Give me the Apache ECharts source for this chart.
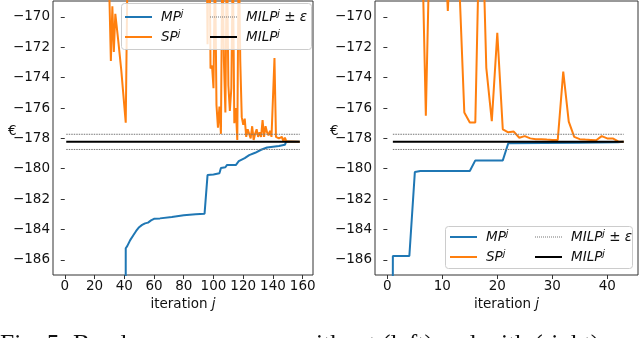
<!DOCTYPE html>
<html>
<head>
<meta charset="utf-8">
<script src="https://cdn.jsdelivr.net/npm/echarts@6/dist/echarts.min.js"></script>
<style>
  html, body { margin: 0; padding: 0; background: #fff; }
  #chart { width: 640px; height: 338px; }
</style>
</head>
<body>
<div id="chart"></div>
<script>
// axis ranges and ticks
const yRange = [-187, -168.95];
const yTicks = [-186, -184, -182, -180, -178, -176, -174, -172, -170];
const leftXRange = [-7.9, 166.9];
const leftXTicks = [0, 20, 40, 60, 80, 100, 120, 140, 160];
const rightXRange = [-2.25, 45.6];
const rightXTicks = [0, 10, 20, 30, 40];

// reference MILP value and tolerance
const milp = -178.23;
const eps = 0.5;
const leftSpan = [1, 158];
const rightSpan = [1, 43];

// left: without ... (iteration, value)
const leftMP = [
  [40, -400], [41, -185.24], [42, -185.1], [44, -184.7], [46, -184.4], [48, -184.1],
  [50, -183.85], [52, -183.7], [54, -183.6], [56, -183.55], [58, -183.4], [60, -183.3],
  [64, -183.27], [72, -183.18], [80, -183.07], [88, -183.0], [94, -182.96], [96, -180.42],
  [100, -180.38], [104, -180.3], [105, -179.95], [108, -179.9], [109, -179.76],
  [115, -179.76], [117, -179.5], [121, -179.3], [124, -179.1], [128, -178.95],
  [132, -178.75], [136, -178.6], [140, -178.55], [144, -178.5], [148, -178.42],
  [149, -178.2], [158, -178.22]
];
const leftSP = [
  [1, -150], [28, -160], [31, -172.9], [32, -169.3], [33, -172.3], [34, -169.8],
  [36, -171.6], [38, -173.5], [41, -176.97], [43, -160], [95, -160],
  [96, -171.8], [97, -160], [98, -173.4], [99, -173.2], [100, -174.7], [101, -166],
  [102, -175.8], [103, -177.3], [104, -175.9], [105, -177.7], [106, -165],
  [107, -172.9], [108, -176.3], [109, -165], [110, -174.5], [111, -176.2],
  [112, -174.7], [113, -166], [114, -177], [115, -176], [116, -178.1], [117, -165],
  [118, -172.9], [119, -176.6], [120, -177.1], [121, -176.7], [122, -177.9],
  [123, -177.4], [124, -177.7], [125, -178], [126, -177.2], [127, -178.1],
  [128, -177.7], [129, -177.4], [130, -177.9], [131, -177.6], [132, -177.9],
  [133, -176.8], [134, -177.9], [135, -177.2], [136, -177.6], [137, -177.8],
  [138, -177.5], [139, -177.9], [140, -177.8], [141, -172.7], [142, -177.9],
  [143, -177.8], [144, -178], [145, -178.1], [146, -177.9], [147, -178.2],
  [148, -177.95], [149, -178.2], [150, -178.15], [152, -178.2], [158, -178.22]
];

// right: with ...
const rightMP = [
  [0, -400], [1, -185.75], [4, -185.75], [5, -180.22], [6, -180.15], [15, -180.15],
  [16, -179.45], [21, -179.45], [22, -178.32], [35, -178.28], [42, -178.25], [43, -178.23]
];
const rightSP = [
  [1, -150], [6, -160], [7, -176.5], [8, -160], [10, -162], [11, -169.6], [12, -162],
  [13, -167], [14, -176.3], [15, -176.95], [16, -176.95], [17, -160], [18, -173.35],
  [19, -176.86], [20, -171.05], [21, -177.4], [22, -177.6], [23, -177.55],
  [24, -177.96], [25, -177.85], [26, -178.0], [27, -178.05], [28, -178.05],
  [29, -178.08], [30, -178.1], [31, -178.1], [32, -173.6], [33, -176.9],
  [34, -177.9], [35, -178.05], [36, -178.08], [37, -178.1], [38, -178.12],
  [39, -177.85], [40, -178.0], [41, -178.0], [42, -178.2], [43, -178.23]
];

const FONT = 'DejaVu Sans';
const FS = 13.5;
const minus = v => String(v).replace('-', '\u2212');
const flat = (span, y) => span.map(x => [x, y]);

// legend icons: solid bar and dotted bar
const SOLID_ICON = 'path://M0,0h27v2h-27z';
let dots = '';
for (let i = 0; i < 27; i += 2) dots += 'M' + i + ',0h1v1h-1z';
const DOTTED_ICON = 'path://' + dots;

function xAxisFor(idx, range, ticks) {
  return {
    type: 'value', gridIndex: idx, min: range[0], max: range[1],
    axisLine: { show: false },
    splitLine: { show: false },
    axisTick: { show: true, length: 4, customValues: ticks, lineStyle: { color: '#333' } },
    axisLabel: { customValues: ticks, formatter: minus, color: '#111', fontFamily: FONT, fontSize: FS, margin: 4 },
    name: '{n|iteration }{i|j}', nameLocation: 'middle', nameGap: 17,
    nameTextStyle: {
      rich: {
        n: { fontFamily: FONT, fontSize: FS, color: '#111' },
        i: { fontFamily: FONT, fontSize: FS, fontStyle: 'italic', color: '#111' }
      }
    }
  };
}
function yAxisFor(idx) {
  return {
    type: 'value', gridIndex: idx, min: yRange[0], max: yRange[1],
    axisLine: { show: false },
    splitLine: { show: false },
    axisTick: { show: true, length: 4, customValues: yTicks, lineStyle: { color: '#333' } },
    axisLabel: { customValues: yTicks, formatter: minus, color: '#111', fontFamily: FONT, fontSize: FS, margin: 3 }
  };
}
function panelSeries(idx, mp, sp, span) {
  const base = { type: 'line', xAxisIndex: idx, yAxisIndex: idx, symbol: 'none', clip: true, animation: false };
  const dotted = { color: '#777', width: 1, type: [1.5, 1] };
  return [
    Object.assign({}, base, { name: 'MP', data: mp, lineStyle: { color: '#1f77b4', width: 2 }, itemStyle: { color: '#1f77b4' } }),
    Object.assign({}, base, { name: 'SP', data: sp, lineStyle: { color: '#ff7f0e', width: 2 }, itemStyle: { color: '#ff7f0e' } }),
    Object.assign({}, base, { name: 'MILP ± ε', data: flat(span, milp + eps), lineStyle: dotted, itemStyle: { color: '#777' } }),
    Object.assign({}, base, { name: 'MILP ± ε', data: flat(span, milp - eps), lineStyle: dotted, itemStyle: { color: '#777' } }),
    Object.assign({}, base, { name: 'MILP', data: flat(span, milp), lineStyle: { color: '#000', width: 2 }, itemStyle: { color: '#000' } })
  ];
}

const legendRich = {
  i: { fontFamily: FONT, fontSize: 13.5, fontStyle: 'italic', color: '#111' },
  s: { fontFamily: FONT, fontSize: 9.5, fontStyle: 'italic', color: '#111', verticalAlign: 'top', padding: [0, 0, 6, 0] },
  u: { fontFamily: FONT, fontSize: 13.5, color: '#111' }
};
const legendFmt = name => {
  if (name === 'MILP ± ε') return '{i|MILP}{s|j}{u| ± }{i|ε}';
  return '{i|' + name + '}{s|j}';
};
function legendCol(names, left, top) {
  return {
    data: names.map(n => ({ name: n, icon: n === 'MILP ± ε' ? DOTTED_ICON : SOLID_ICON })),
    left: left, top: top, orient: 'vertical',
    itemWidth: 27, itemHeight: 2, itemGap: 5, padding: 0, z: 10,
    formatter: legendFmt, selectedMode: false,
    textStyle: { rich: legendRich, padding: [0, 0, 0, 4] }
  };
}
function euroLabel(x) {
  return { type: 'text', left: x, top: 124, z: 20,
    style: { text: '€', fontFamily: FONT, fontSize: FS, fill: '#111' } };
}

const chart = echarts.init(document.getElementById('chart'), null, { renderer: 'canvas' });
chart.setOption({
  animation: false,
  backgroundColor: '#fff',
  grid: [
    { left: 53, top: 1, width: 260, height: 274, show: true, borderColor: '#333', borderWidth: 1, backgroundColor: 'transparent' },
    { left: 375, top: 1, width: 263, height: 274, show: true, borderColor: '#333', borderWidth: 1, backgroundColor: 'transparent' }
  ],
  xAxis: [xAxisFor(0, leftXRange, leftXTicks), xAxisFor(1, rightXRange, rightXTicks)],
  yAxis: [yAxisFor(0), yAxisFor(1)],
  legend: [
    legendCol(['MP', 'SP'], 125, 9),
    legendCol(['MILP ± ε', 'MILP'], 210, 9),
    legendCol(['MP', 'SP'], 450, 229),
    legendCol(['MILP ± ε', 'MILP'], 535, 229)
  ],
  graphic: [
    { type: 'rect', z: 5, shape: { x: 121.5, y: 3.5, width: 190, height: 46, r: 3 },
      style: { fill: 'rgba(255,255,255,0.8)', stroke: '#ccc', lineWidth: 1 } },
    { type: 'rect', z: 5, shape: { x: 445.5, y: 226.5, width: 187, height: 42, r: 3 },
      style: { fill: 'rgba(255,255,255,0.8)', stroke: '#ccc', lineWidth: 1 } },
    euroLabel(8),
    euroLabel(330),
    { type: 'text', left: 0, top: 332, z: 20,
      style: { text: 'Fig. 5: Benders convergence without (left) and with (right)', fontFamily: 'Liberation Serif', fontSize: 25.5, fill: '#111' } }
  ],
  series: panelSeries(0, leftMP, leftSP, leftSpan).concat(panelSeries(1, rightMP, rightSP, rightSpan))
});
</script>
</body>
</html>
